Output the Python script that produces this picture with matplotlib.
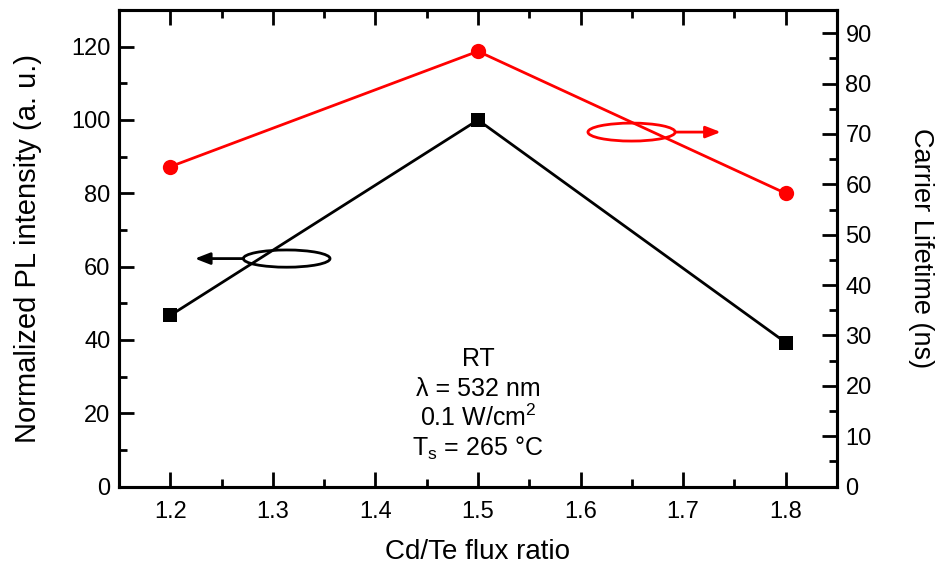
import matplotlib
matplotlib.use("Agg")
import matplotlib.pyplot as plt
from matplotlib.patches import Ellipse
from matplotlib.ticker import MultipleLocator

plt.rcParams['font.family'] = ['Liberation Sans', 'DejaVu Sans']
plt.rcParams['mathtext.fontset'] = 'custom'
plt.rcParams['mathtext.rm'] = 'Liberation Sans'
plt.rcParams['mathtext.it'] = 'Liberation Sans'

flux_ratio = [1.2, 1.5, 1.8]
pl_intensity = [46.7, 100.0, 39.3]
lifetime_ns = [63.5, 86.4, 58.2]

fig = plt.figure(figsize=(9.44, 5.67), dpi=100)
ax = fig.add_axes([0.126, 0.1417, 0.7607, 0.8407])
ax2 = ax.twinx()

ax.plot(flux_ratio, pl_intensity, color='black', lw=2.0, marker='s', ms=10,
        markeredgewidth=0, zorder=3)
ax2.plot(flux_ratio, lifetime_ns, color='#ff0000', lw=2.0, marker='o', ms=11,
         markeredgewidth=0, zorder=3)

ax.set_xlim(1.15, 1.85)
ax.set_ylim(0, 130)
ax2.set_ylim(0, 94.6)

ax.xaxis.set_major_locator(MultipleLocator(0.1))
ax.xaxis.set_minor_locator(MultipleLocator(0.05))
ax.yaxis.set_major_locator(MultipleLocator(20))
ax.yaxis.set_minor_locator(MultipleLocator(10))
ax2.yaxis.set_major_locator(MultipleLocator(10))
ax2.yaxis.set_minor_locator(MultipleLocator(5))

for a in (ax, ax2):
    for s in a.spines.values():
        s.set_linewidth(2.2)
ax.tick_params(axis='x', which='both', direction='in', top=True, bottom=True,
               labelsize=17, pad=10)
ax.tick_params(axis='y', which='both', direction='in', left=True, right=False,
               labelsize=17, pad=6)
ax.tick_params(which='major', length=11, width=2.0)
ax.tick_params(which='minor', length=6, width=2.0)
ax2.tick_params(axis='y', which='both', direction='in', labelsize=17, pad=6)
ax2.tick_params(which='major', length=11, width=2.0)
ax2.tick_params(which='minor', length=6, width=2.0)

ax.set_xlabel('Cd/Te flux ratio', fontsize=20, labelpad=12)
ax.set_ylabel('Normalized PL intensity (a. u.)', fontsize=21, labelpad=21)
ax2.set_ylabel('Carrier Lifetime (ns)', fontsize=19.5, rotation=270, labelpad=45)

# series markers: ellipse plus arrow pointing to the matching axis
ax.add_patch(Ellipse((1.3135, 62.2), 0.0845, 4.7, fill=False, ec='black',
                     lw=2.0, zorder=4))
ax.annotate('', xy=(1.224, 62.2), xytext=(1.2715, 62.2),
            arrowprops=dict(arrowstyle='-|>,head_length=0.9,head_width=0.35',
                            color='black', lw=2.0, shrinkA=0, shrinkB=0))
ax.add_patch(Ellipse((1.6497, 96.7), 0.085, 4.9, fill=False, ec='#ff0000',
                     lw=2.0, zorder=4))
ax.annotate('', xy=(1.7367, 96.7), xytext=(1.6922, 96.7),
            arrowprops=dict(arrowstyle='-|>,head_length=0.9,head_width=0.35',
                            color='#ff0000', lw=2.0, shrinkA=0, shrinkB=0))

conditions = ['RT', 'λ = 532 nm', r'0.1 W/cm$^\mathregular{2}$',
              r'T$_\mathregular{s}$ = 265 °C']
ys = [32.9, 24.8, 16.6, 8.5]
for txt, yv in zip(conditions, ys):
    ax.text(1.5, yv, txt, ha='center', va='baseline', fontsize=18)

fig.savefig('out.png', dpi=100)
